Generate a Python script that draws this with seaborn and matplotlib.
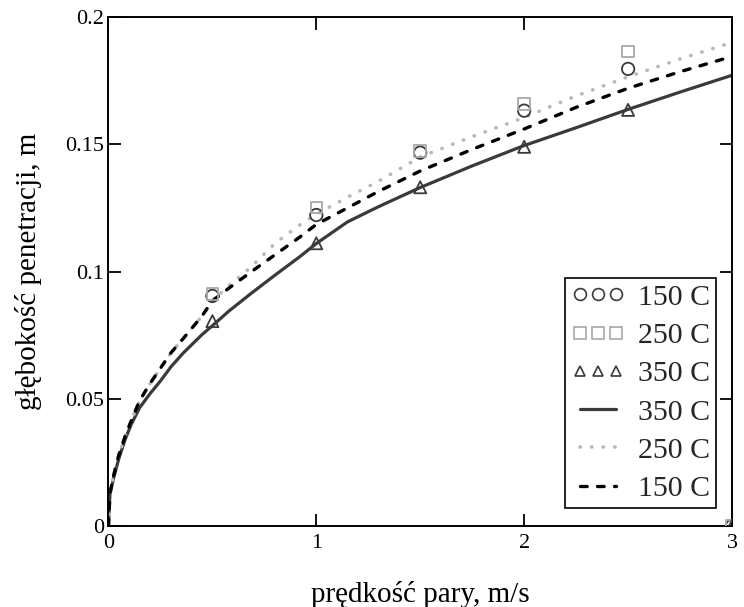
import numpy as np
import pandas as pd
import matplotlib
matplotlib.use("Agg")
import matplotlib.pyplot as plt
import seaborn as sns
from matplotlib.lines import Line2D

# ---- data ----
pt_x = [0.5, 1.0, 1.5, 2.0, 2.5, 3.0]
pts_150 = [0.0904, 0.1222, 0.1467, 0.1632, 0.1796, 0.0]
pts_250 = [0.0912, 0.1251, 0.1474, 0.1658, 0.1864, 0.0]
pts_350 = [0.0805, 0.1111, 0.1331, 0.1490, 0.1635, 0.0]

line_x = [0, 0.007, 0.025, 0.05, 0.08, 0.11, 0.15, 0.2, 0.25, 0.3, 0.36, 0.45,
          0.5, 0.58, 0.68, 0.8, 0.92, 1.0, 1.15, 1.3, 1.5, 1.75, 2.0, 2.25,
          2.5, 2.75, 3.0]
line_350 = [0, 0.0125, 0.019, 0.0265, 0.034, 0.040, 0.0465, 0.052, 0.057,
            0.0625, 0.068, 0.0752, 0.0787, 0.0845, 0.091, 0.0985, 0.1058,
            0.1110, 0.1195, 0.1255, 0.1330, 0.1415, 0.1495, 0.1565, 0.1637,
            0.1705, 0.1771]
line_250 = [0, 0.0128, 0.0200, 0.0280, 0.0352, 0.0415, 0.0493, 0.0560, 0.0620,
            0.0680, 0.0737, 0.0825, 0.0885, 0.0945, 0.1013, 0.1110, 0.1183,
            0.1225, 0.1292, 0.1355, 0.1450, 0.1530, 0.1605, 0.1690, 0.1765,
            0.1835, 0.1900]
line_150 = [0, 0.0128, 0.0200, 0.0280, 0.0352, 0.0415, 0.0493, 0.0560, 0.0620,
            0.0680, 0.0737, 0.0825, 0.0885, 0.0935, 0.0995, 0.1065, 0.1135,
            0.1185, 0.1250, 0.1315, 0.1395, 0.1480, 0.1560, 0.1645, 0.1720,
            0.1785, 0.1845]

x_ticks = [0, 1, 2, 3]
y_ticks = [0, 0.05, 0.1, 0.15, 0.2]
y_tick_labels = ["0", "0.05", "0.1", "0.15", "0.2"]
legend_labels = ["150 C", "250 C", "350 C", "350 C", "250 C", "150 C"]
x_label = "prędkość pary, m/s"
y_label = "głębokość penetracji, m"

# ---- styling ----
sns.set_theme(style="white")
plt.rcParams["font.family"] = ["Liberation Serif", "DejaVu Serif"]

fig = plt.figure(figsize=(7.44, 6.07), dpi=100)
ax = fig.add_axes([0.1458, 0.1334, 0.9839 - 0.1458, 0.972 - 0.1334])

dark = "#3a3a3a"
light = "#b8b8b8"
dash_style = (0, (2.0, 3.1))
dot_style = (0, (0.1, 3.1))

lines_df = pd.DataFrame({"x": line_x, "y350": line_350, "y250": line_250, "y150": line_150})
sns.lineplot(data=lines_df, x="x", y="y350", ax=ax, color=dark, linewidth=2.3,
             linestyle="-", estimator=None, sort=False)
sns.lineplot(data=lines_df, x="x", y="y250", ax=ax, color=light, linewidth=2.6,
             linestyle=dot_style, dash_capstyle="round", estimator=None, sort=False)
sns.lineplot(data=lines_df, x="x", y="y150", ax=ax, color="black", linewidth=2.4,
             linestyle=dash_style, dash_capstyle="round", estimator=None, sort=False)

pts_df = pd.DataFrame({"x": pt_x, "p150": pts_150, "p250": pts_250, "p350": pts_350})
sns.scatterplot(data=pts_df, x="x", y="p150", ax=ax, marker="o", s=80,
                facecolor="none", edgecolor=dark, linewidth=1.3, zorder=5)
sns.scatterplot(data=pts_df, x="x", y="p250", ax=ax, marker="s", s=70,
                facecolor="none", edgecolor="#a8a8a8", linewidth=1.3, zorder=5)
sns.scatterplot(data=pts_df, x="x", y="p350", ax=ax, marker="^", s=75,
                facecolor="none", edgecolor=dark, linewidth=1.3, zorder=5)

ax.set_xlim(0, 3)
ax.set_ylim(0, 0.2)
ax.set_xticks(x_ticks)
ax.set_xticklabels([str(v) for v in x_ticks])
ax.set_yticks(y_ticks)
ax.set_yticklabels(y_tick_labels)
ax.tick_params(direction="in", length=9, width=1.3, labelsize=16, colors="black",
               top=True, right=True, bottom=True, left=True, pad=3)
ax.tick_params(axis="x", pad=6)
for sp in ax.spines.values():
    sp.set_visible(True)
    sp.set_color("black")
    sp.set_linewidth(1.4)

ax.set_xlabel(x_label, fontsize=21, color="black", labelpad=20)
ax.set_ylabel(y_label, fontsize=21, color="black", labelpad=17)

handles = [
    Line2D([], [], linestyle="none", marker="o", markersize=8.5, markerfacecolor="none",
           markeredgecolor=dark, markeredgewidth=1.2),
    Line2D([], [], linestyle="none", marker="s", markersize=8, markerfacecolor="none",
           markeredgecolor="#a8a8a8", markeredgewidth=1.2),
    Line2D([], [], linestyle="none", marker="^", markersize=7.5, markerfacecolor="none",
           markeredgecolor=dark, markeredgewidth=1.2),
    Line2D([], [], color=dark, linewidth=2.3, linestyle="-"),
    Line2D([], [], color=light, linewidth=2.6, linestyle=dot_style, dash_capstyle="round"),
    Line2D([], [], color="black", linewidth=2.4, linestyle=dash_style, dash_capstyle="round"),
]
leg = ax.legend(handles, legend_labels, loc="lower right", bbox_to_anchor=(0.9743, 0.0354),
                numpoints=3, fontsize=21.5, frameon=True, fancybox=False, framealpha=1,
                edgecolor="black", handlelength=1.8, handletextpad=0.45, borderpad=0.2,
                labelspacing=0.38, borderaxespad=0)
leg.get_frame().set_linewidth(1.2)

fig.savefig("out.png", dpi=100)
